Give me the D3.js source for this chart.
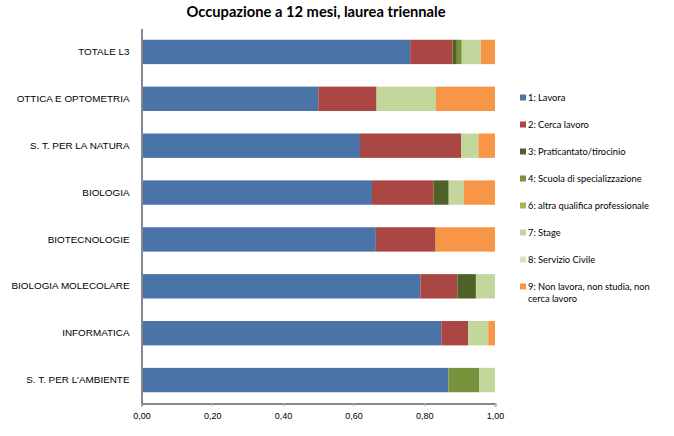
<!DOCTYPE html>
<html><head><meta charset="utf-8">
<script src="https://cdn.jsdelivr.net/npm/d3@7"></script>
<style>body{margin:0;background:#fff}svg{display:block;font-family:Lato,"Open Sans",sans-serif}</style>
</head><body><svg id="c" width="674" height="436"></svg>
<script>
const categories = ["TOTALE L3","OTTICA E OPTOMETRIA","S. T. PER LA NATURA","BIOLOGIA","BIOTECNOLOGIE","BIOLOGIA MOLECOLARE","INFORMATICA","S. T. PER L'AMBIENTE"];
const seriesNames = ["1: Lavora","2: Cerca lavoro","3: Praticantato/tirocinio","4: Scuola di specializzazione","6: altra qualifica professionale","7: Stage","8: Servizio Civile","9: Non lavora, non studia, non cerca lavoro"];
const seriesColors = ["#4A74A8","#AA4643","#4F6228","#77933C","#9BBB59","#C3D69B","#D7E4BD","#F79646"];
const lavora        = [0.760,0.500,0.618,0.652,0.663,0.789,0.848,0.868];
const cercaLavoro   = [0.120,0.165,0.286,0.174,0.169,0.105,0.076,0.000];
const praticantato  = [0.012,0.000,0.000,0.043,0.000,0.052,0.000,0.000];
const scuolaSpec    = [0.014,0.000,0.000,0.000,0.000,0.000,0.000,0.087];
const altraQualif   = [0.000,0.000,0.000,0.000,0.000,0.000,0.000,0.000];
const stage         = [0.054,0.168,0.049,0.043,0.000,0.054,0.057,0.045];
const servizioCiv   = [0.000,0.000,0.000,0.000,0.000,0.000,0.000,0.000];
const nonLavora     = [0.040,0.167,0.047,0.088,0.168,0.000,0.019,0.000];
const xTicks = [0,0.2,0.4,0.6,0.8,1.0];

const seriesValues = [lavora,cercaLavoro,praticantato,scuolaSpec,altraQualif,stage,servizioCiv,nonLavora];
const rows = categories.map((c,i)=>{const o={cat:c}; seriesNames.forEach((s,j)=>o[s]=seriesValues[j][i]); return o;});
const stacked = d3.stack().keys(seriesNames)(rows);

const svg = d3.select("#c");
const L=141.5, R=495, T=28.5, B=403.5;
const x = d3.scaleLinear().domain([0,1]).range([L,R]);
const y = d3.scaleBand().domain(categories).range([T,B]).paddingInner(0.48).paddingOuter(0.24);

svg.append("text").attr("x",316).attr("y",17).attr("text-anchor","middle")
  .attr("font-size",14.7).attr("font-weight","bold").attr("fill","#000").text("Occupazione a 12 mesi, laurea triennale");

stacked.forEach((s,j)=>{
  svg.append("g").attr("fill",seriesColors[j]).selectAll("rect").data(s).join("rect")
    .attr("x",d=>x(d[0])).attr("width",d=>Math.max(0,x(d[1])-x(d[0])))
    .attr("y",d=>y(d.data.cat)).attr("height",y.bandwidth());
});

const xAxis = svg.append("g").attr("transform",`translate(0,${B})`)
  .call(d3.axisBottom(x).tickValues(xTicks).tickSize(3).tickFormat(d=>d3.format(".2f")(d).replace(".",",")));
xAxis.select(".domain").attr("stroke","#888").attr("stroke-width",2);
xAxis.selectAll(".tick line").attr("stroke","#bbb");
xAxis.selectAll(".tick text").attr("font-size",9).attr("fill","#000").attr("dy","1.1em");

const yAxis = svg.append("g").attr("transform",`translate(${L},0)`)
  .call(d3.axisLeft(y).tickSize(0).tickPadding(12));
yAxis.select(".domain").attr("stroke","#888").attr("stroke-width",2);
yAxis.selectAll(".tick text").attr("font-size",9.9).attr("fill","#000");

const lg = svg.append("g");
const legendY = [98,125,152,179,206,233,260,287];
seriesNames.forEach((n,j)=>{
  const g = lg.append("g").attr("transform",`translate(520,${legendY[j]})`);
  g.append("rect").attr("x",0).attr("y",-3.5).attr("width",6).attr("height",6).attr("fill",seriesColors[j]);
  const t = g.append("text").attr("x",8).attr("y",3).attr("font-size",9.3).attr("fill","#000");
  if (j===7) {
    t.append("tspan").attr("x",8).text("9: Non lavora, non studia, non");
    t.append("tspan").attr("x",8).attr("dy",12).text("cerca lavoro");
  } else t.text(n);
});
</script></body></html>
